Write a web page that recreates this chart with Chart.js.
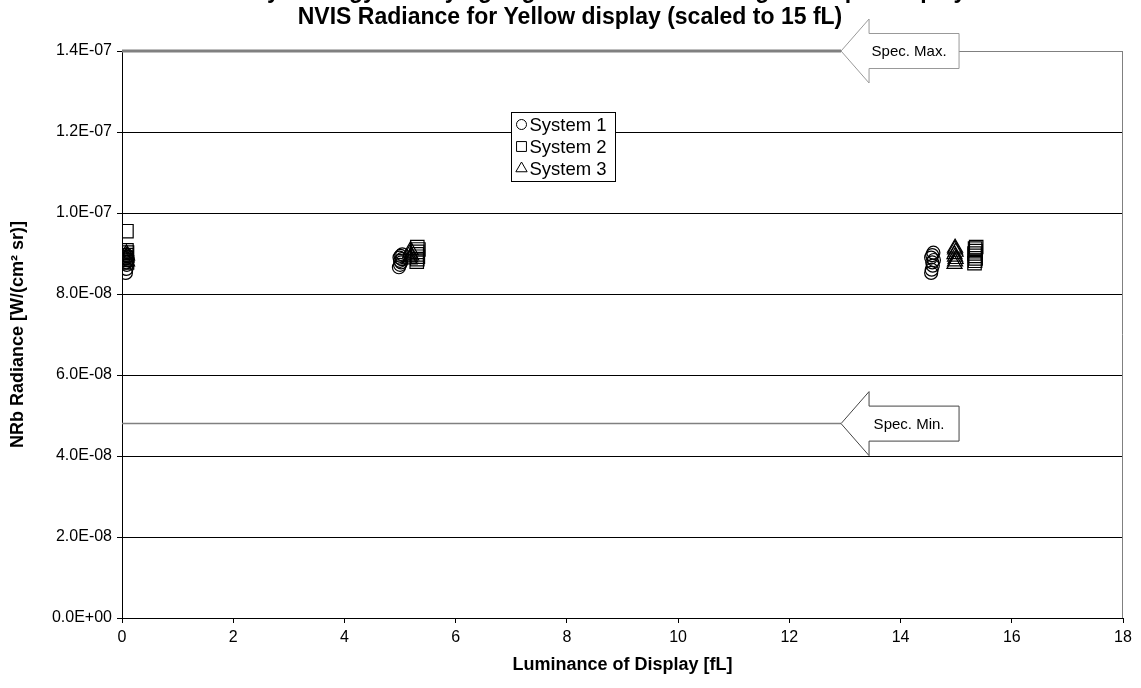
<!DOCTYPE html>
<html>
<head>
<meta charset="utf-8">
<script src="https://cdn.jsdelivr.net/npm/chart.js@4/dist/chart.umd.min.js"></script>
<style>
html, body { margin: 0; padding: 0; background: #fff; }
</style>
</head>
<body>
<canvas id="myChart" width="1141" height="688"></canvas>
<script>
const FONT = '"Liberation Sans", Arial, sans-serif';

const titleLines = ['Yellow Symbology at Varying Night Luminance Settings: Sample Display', 'NVIS Radiance for Yellow display (scaled to 15 fL)'];
const xTitle = 'Luminance of Display [fL]';
const yTitle = 'NRb Radiance [W/(cm\u00B2 sr)]';

const seriesNames = ['System 1', 'System 2', 'System 3'];

// System 1 (circles)
const sys1X = [0.07, 0.08, 0.09, 0.08, 0.1, 0.07, 0.09, 0.08,
               4.98, 5.0, 5.02, 5.0, 5.03, 4.99, 5.01, 5.04,
               14.55, 14.56, 14.58, 14.57, 14.6, 14.55, 14.57, 14.59];
const sys1Y = [8.52e-8, 8.62e-8, 8.72e-8, 8.78e-8, 8.84e-8, 8.88e-8, 8.93e-8, 8.97e-8,
               8.66e-8, 8.72e-8, 8.78e-8, 8.82e-8, 8.86e-8, 8.90e-8, 8.94e-8, 8.98e-8,
               8.52e-8, 8.60e-8, 8.70e-8, 8.78e-8, 8.84e-8, 8.90e-8, 8.96e-8, 9.02e-8];

// System 2 (squares)
const sys2X = [0.08, 0.08, 0.09, 0.08, 0.07, 0.08, 0.09,
               5.3, 5.31, 5.32, 5.3, 5.31, 5.33, 5.31,
               15.33, 15.34, 15.35, 15.34, 15.33, 15.35, 15.34, 15.36];
const sys2Y = [9.55e-8, 9.08e-8, 9.02e-8, 8.96e-8, 8.90e-8, 8.84e-8, 8.78e-8,
               8.80e-8, 8.86e-8, 8.92e-8, 8.98e-8, 9.04e-8, 9.10e-8, 9.16e-8,
               8.76e-8, 8.82e-8, 8.88e-8, 8.94e-8, 9.00e-8, 9.06e-8, 9.12e-8, 9.16e-8];

// System 3 (triangles)
const sys3X = [0.08, 0.09, 0.08, 0.07, 0.09,
               5.17, 5.18, 5.2, 5.18, 5.19,
               14.97, 14.98, 14.99, 14.98, 14.97, 14.99, 14.98, 14.98];
const sys3Y = [9.00e-8, 8.95e-8, 8.90e-8, 8.85e-8, 8.80e-8,
               8.85e-8, 8.90e-8, 8.95e-8, 9.00e-8, 9.08e-8,
               8.74e-8, 8.80e-8, 8.86e-8, 8.92e-8, 8.98e-8, 9.04e-8, 9.10e-8, 9.14e-8];

// spec limits
const specMax = 1.4e-7;
const specMin = 4.8e-8;
const specLineEnd = 12.93;
const specLabels = ['Spec. Max.', 'Spec. Min.'];

const xTicks = { min: 0, max: 18, step: 2 };
const yTicks = { min: 0, max: 1.4e-7, step: 2e-8 };

function pts(xs, ys) {
  return xs.map((x, i) => ({ x: x, y: ys[i] }));
}

function sci(v) {
  if (Math.abs(v) < 1e-15) return '0.0E+00';
  const parts = v.toExponential(1).split('e');
  const n = parseInt(parts[1], 10);
  return parts[0] + 'E' + (n < 0 ? '-' : '+') + String(Math.abs(n)).padStart(2, '0');
}

const markerStyle = {
  borderColor: '#000',
  backgroundColor: 'rgba(255,255,255,0)',
  borderWidth: 1.2,
  showLine: false,
};

const data = {
  datasets: [
    Object.assign({ label: seriesNames[0], data: pts(sys1X, sys1Y), pointStyle: 'circle', pointRadius: 6.5 }, markerStyle),
    Object.assign({ label: seriesNames[2], data: pts(sys3X, sys3Y), pointStyle: 'triangle', pointRadius: 8.7 }, markerStyle),
    Object.assign({ label: seriesNames[1], data: pts(sys2X, sys2Y), pointStyle: 'rect', pointRadius: 9.5 }, markerStyle),
    {
      type: 'line', label: specLabels[0],
      data: [{ x: 0, y: specMax }, { x: specLineEnd, y: specMax }],
      borderColor: '#808080', borderWidth: 3, pointRadius: 0, clip: 5,
    },
    {
      type: 'line', label: specLabels[1],
      data: [{ x: 0, y: specMin }, { x: specLineEnd, y: specMin }],
      borderColor: '#808080', borderWidth: 1.5, pointRadius: 0, clip: 5,
    },
  ]
};

function arrow(ctx, tipX, y, label, stroke) {
  const head = 28, len = 118, hh = 32, bh = 17.5;
  ctx.beginPath();
  ctx.moveTo(tipX, y);
  ctx.lineTo(tipX + head, y - hh);
  ctx.lineTo(tipX + head, y - bh);
  ctx.lineTo(tipX + len, y - bh);
  ctx.lineTo(tipX + len, y + bh);
  ctx.lineTo(tipX + head, y + bh);
  ctx.lineTo(tipX + head, y + hh);
  ctx.closePath();
  ctx.fillStyle = '#fff';
  ctx.fill();
  ctx.strokeStyle = stroke;
  ctx.lineWidth = 1;
  ctx.stroke();
  ctx.fillStyle = '#000';
  ctx.font = '15px ' + FONT;
  ctx.textAlign = 'center';
  ctx.textBaseline = 'middle';
  ctx.fillText(label, tipX + 68, y + 1);
}

const decor = {
  id: 'decor',
  beforeDatasetsDraw(chart) {
    const { ctx, chartArea: a } = chart;
    ctx.save();
    ctx.strokeStyle = '#808080';
    ctx.lineWidth = 1;
    ctx.beginPath();
    ctx.moveTo(a.left, a.top + 0.5);
    ctx.lineTo(a.right - 0.5, a.top + 0.5);
    ctx.lineTo(a.right - 0.5, a.bottom);
    ctx.stroke();
    ctx.restore();
  },
  afterDatasetsDraw(chart) {
    const { ctx } = chart;
    const xs = chart.scales.x, ys = chart.scales.y;
    ctx.save();
    arrow(ctx, xs.getPixelForValue(specLineEnd), ys.getPixelForValue(specMax), specLabels[0], '#999');
    arrow(ctx, xs.getPixelForValue(specLineEnd), ys.getPixelForValue(specMin), specLabels[1], '#444');

    // legend box
    const lx = Math.round(xs.getPixelForValue(7.0)) + 0.5;
    const ly = Math.round(ys.getPixelForValue(1.25e-7)) + 0.5;
    const lw = 104, lh = 69;
    ctx.fillStyle = '#fff';
    ctx.fillRect(lx, ly, lw, lh);
    ctx.strokeStyle = '#000';
    ctx.lineWidth = 1;
    ctx.strokeRect(lx, ly, lw, lh);
    const legendItems = [
      { name: seriesNames[0], style: 'circle', r: 5 },
      { name: seriesNames[1], style: 'rect', r: 7 },
      { name: seriesNames[2], style: 'triangle', r: 6.5 },
    ];
    ctx.font = '18.5px ' + FONT;
    ctx.textAlign = 'left';
    ctx.textBaseline = 'middle';
    legendItems.forEach((it, i) => {
      const cy = ly + 12 + i * 22;
      ctx.strokeStyle = '#000';
      ctx.fillStyle = 'rgba(255,255,255,0)';
      Chart.helpers.drawPoint(ctx, { pointStyle: it.style, radius: it.r, rotation: 0, borderWidth: 1 }, lx + 10, cy);
      ctx.fillStyle = '#000';
      ctx.fillText(it.name, lx + 18, cy + 1);
    });
    ctx.restore();
  },
  afterDraw(chart) {
    const { ctx } = chart;
    ctx.save();
    ctx.fillStyle = '#000';
    ctx.font = 'bold 23px ' + FONT;
    ctx.textAlign = 'center';
    ctx.textBaseline = 'middle';
    const cx = 570;
    ctx.fillText(titleLines[0], cx, -8);
    ctx.fillText(titleLines[1], cx, 18);
    ctx.restore();
  }
};

const config = {
  type: 'scatter',
  data: data,
  options: {
    responsive: false,
    animation: false,
    layout: { padding: { top: 51, right: 18, left: 0, bottom: 0 } },
    plugins: {
      legend: { display: false },
      title: { display: false },
      tooltip: { enabled: false },
    },
    scales: {
      x: {
        type: 'linear',
        min: xTicks.min,
        max: xTicks.max,
        afterFit: (s) => { s.height = 70; },
        border: { color: '#000', width: 1 },
        grid: { drawOnChartArea: false, drawTicks: true, tickLength: 5, tickColor: '#000' },
        ticks: { stepSize: xTicks.step, color: '#000', padding: 5, font: { family: FONT, size: 16 } },
        title: { display: true, text: xTitle, color: '#000', font: { family: FONT, size: 18, weight: 'bold' }, padding: { top: 0, bottom: 12 } },
      },
      y: {
        type: 'linear',
        min: yTicks.min,
        max: yTicks.max,
        afterFit: (s) => { s.width = 122; },
        border: { color: '#000', width: 1 },
        grid: {
          color: (c) => (c.tick && c.tick.value > yTicks.max - 1e-12 ? '#808080' : '#000'),
          lineWidth: 1, drawTicks: true, tickLength: 5, tickColor: '#000',
        },
        ticks: { stepSize: yTicks.step, color: '#000', padding: 5, font: { family: FONT, size: 16 }, callback: (v) => sci(v) },
        title: { display: true, text: yTitle, color: '#000', font: { family: FONT, size: 18, weight: 'bold' }, padding: { top: 7, bottom: 0 } },
      }
    }
  },
  plugins: [decor],
};

const ctx = document.getElementById('myChart').getContext('2d');
new Chart(ctx, config);
</script>
</body>
</html>
